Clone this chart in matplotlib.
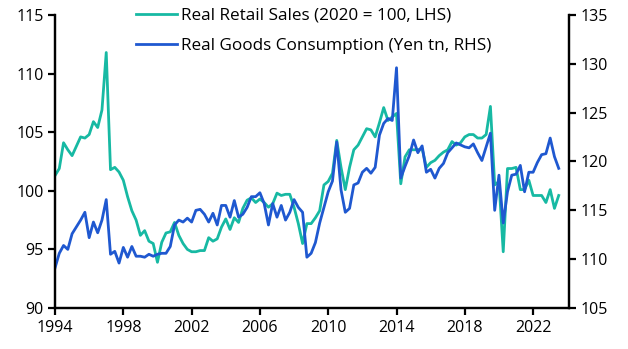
import numpy as np
import matplotlib
matplotlib.use("Agg")
import matplotlib.pyplot as plt

plt.rcParams["font.family"] = ["Open Sans", "DejaVu Sans"]

# quarterly data, 1994Q1 - 2023Q3
start_year = 1994
retail_sales = [
    101.3, 101.9, 104.1, 103.5,
    103.0, 103.8, 104.6, 104.5,
    104.8, 105.9, 105.4, 106.9,
    111.8, 101.8, 102.0, 101.6,
    100.9, 99.5, 98.3, 97.5,
    96.2, 96.6, 95.7, 95.5,
    93.9, 95.6, 96.4, 96.5,
    97.3, 96.2, 95.5, 95.0,
    94.8, 94.8, 94.9, 94.9,
    96.0, 95.7, 95.9, 96.9,
    97.6, 96.7, 97.7, 97.3,
    98.5, 99.2, 99.4, 99.0,
    99.3, 99.0, 98.6, 98.9,
    99.8, 99.6, 99.7, 99.7,
    98.6, 97.2, 95.5, 97.2,
    97.2, 97.7, 98.3, 100.5,
    100.8, 101.5, 104.3, 102.0,
    100.1, 102.0, 103.5, 103.9,
    104.6, 105.3, 105.2, 104.6,
    105.8, 107.1, 106.0, 106.3,
    106.6, 100.6, 102.9, 103.5,
    103.5, 103.5, 103.6, 102.0,
    102.4, 102.6, 103.0, 103.3,
    103.5, 104.2, 103.9, 104.1,
    104.6, 104.8, 104.8, 104.5,
    104.5, 104.8, 107.2, 100.5,
    100.8, 94.8, 101.9, 101.9,
    102.0, 100.1, 100.1, 100.9,
    99.6, 99.6, 99.6, 99.0,
    100.1, 98.5, 99.6,
]
goods_consumption = [
    109.1, 110.6, 111.4, 111.0,
    112.6, 113.3, 114.0, 114.8,
    112.2, 113.8, 112.7, 114.0,
    116.1, 110.5, 110.8, 109.6,
    111.2, 110.2, 111.3, 110.3,
    110.3, 110.2, 110.5, 110.3,
    110.5, 110.6, 110.6, 111.3,
    113.5, 114.0, 113.8, 114.2,
    113.8, 115.0, 115.1, 114.6,
    113.8, 114.7, 113.5, 115.5,
    115.5, 114.3, 116.0, 114.3,
    114.6, 115.3, 116.4, 116.4,
    116.8, 115.7, 113.5, 115.7,
    114.3, 115.5, 114.0, 114.8,
    116.1, 115.3, 114.8, 110.2,
    110.6, 111.7, 113.7, 115.3,
    116.9, 118.0, 122.0, 117.1,
    114.8, 115.2, 117.6, 117.8,
    118.9, 119.3, 118.8, 119.4,
    122.7, 123.9, 124.4, 124.2,
    129.6, 118.3, 119.5, 120.6,
    122.2, 120.9, 121.6, 118.9,
    119.2, 118.3, 119.3, 119.8,
    120.9, 121.4, 121.9, 121.7,
    121.5, 121.4, 121.8, 120.9,
    120.1, 121.5, 122.9, 115.0,
    118.6, 113.7, 116.9, 118.6,
    118.7, 119.6, 116.9, 118.9,
    118.9, 119.9, 120.7, 120.8,
    122.4, 120.5, 119.3,
]
x_ticks = [1994, 1998, 2002, 2006, 2010, 2014, 2018, 2022]
left_ticks = [90, 95, 100, 105, 110, 115]
right_ticks = [105, 110, 115, 120, 125, 130, 135]

teal = "#17b9a3"
blue = "#1f58d0"

dates = start_year + np.arange(len(retail_sales)) / 4

fig = plt.figure(figsize=(6.28, 3.49), dpi=100)
ax = fig.add_axes([0.0876, 0.1175, 0.8184, 0.8395])
ax2 = ax.twinx()

l1, = ax.plot(dates, retail_sales, color=teal, lw=2.0,
              label="Real Retail Sales (2020 = 100, LHS)")
l2, = ax2.plot(dates, goods_consumption, color=blue, lw=2.0,
               label="Real Goods Consumption (Yen tn, RHS)")

ax.set_xlim(1994, 2024.1)
ax.set_ylim(90, 115)
ax2.set_ylim(105, 135)
ax.set_xticks(x_ticks)
ax.set_yticks(left_ticks)
ax2.set_yticks(right_ticks)

for a in (ax, ax2):
    a.spines["top"].set_visible(False)
    for s in ("left", "right", "bottom"):
        a.spines[s].set_linewidth(1.6)
    a.tick_params(width=1.6, length=5, labelsize=11.5, colors="black", pad=3)

ax.tick_params(axis="x", length=5, pad=4)

ax.legend(handles=[l1, l2], loc="upper left", bbox_to_anchor=(0.1576, 1.025),
          frameon=False, fontsize=12.3, handlelength=2.4, handletextpad=0.23,
          labelspacing=0.85, borderaxespad=0, borderpad=0)

fig.savefig("out.png", dpi=100)
